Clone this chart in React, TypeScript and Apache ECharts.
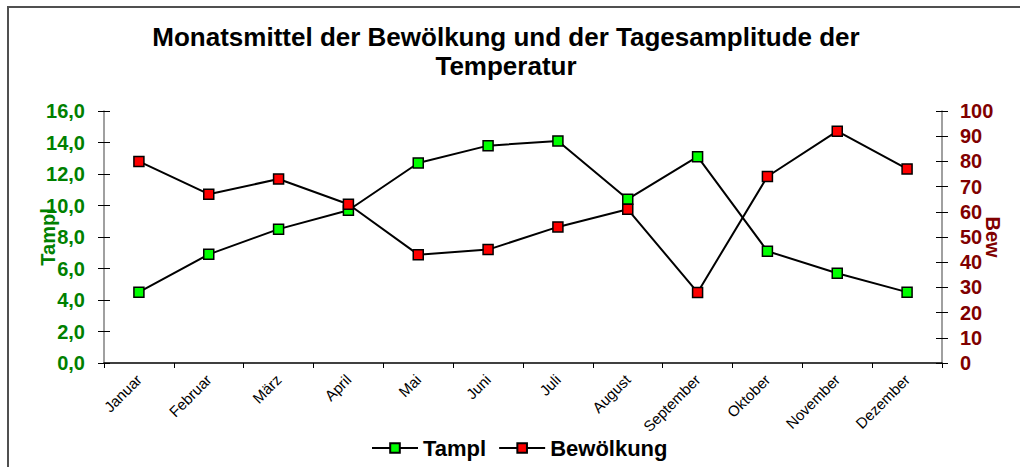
import React, { useEffect, useRef } from "react";
import * as echarts from "echarts";

const months = ["Januar", "Februar", "März", "April", "Mai", "Juni", "Juli", "August", "September", "Oktober", "November", "Dezember"];
const tampl = [4.5, 6.9, 8.5, 9.7, 12.7, 13.8, 14.1, 10.4, 13.1, 7.1, 5.7, 4.5];
const bewoelkung = [80, 67, 73, 63, 43, 45, 54, 61, 28, 74, 92, 77];
const titleText = "Monatsmittel der Bewölkung und der Tagesamplitude der\nTemperatur";

export default function App() {
  const ref = useRef<HTMLDivElement>(null);
  useEffect(() => {
    document.body.style.margin = "0";
    const chart = echarts.init(ref.current!, null, { renderer: "svg" });
    const font = "Liberation Sans, Arial, sans-serif";
    chart.setOption({
      animation: false,
      backgroundColor: "#ffffff",
      textStyle: { fontFamily: font },
      title: {
        text: titleText,
        left: 501,
        top: 17,
        textAlign: "center",
        textStyle: { fontSize: 26, fontWeight: "bold", color: "#000", lineHeight: 29, fontFamily: font },
      },
      graphic: [
        {
          type: "rect",
          shape: { x: 8, y: 7, width: 1100, height: 500 },
          style: { fill: "none", stroke: "#505050", lineWidth: 2 },
          silent: true,
        },
      ],
      legend: {
        bottom: 3,
        left: 366,
        itemWidth: 46,
        itemHeight: 12,
        itemGap: 12,
        textStyle: { fontSize: 22, fontWeight: "bold", color: "#000", fontFamily: font },
        data: ["Tampl", "Bewölkung"],
      },
      grid: { left: 104, right: 78, top: 111, bottom: 104, outerBoundsMode: "none", containLabel: false },
      xAxis: {
        type: "category",
        data: months,
        boundaryGap: true,
        axisLine: { lineStyle: { color: "#000", width: 1.5 } },
        axisTick: { show: true, length: 5, lineStyle: { color: "#000" } },
        axisLabel: { rotate: 45, fontSize: 15, color: "#000", margin: 14, interval: 0, fontFamily: font },
      },
      yAxis: [
        {
          type: "value",
          min: 0,
          max: 16,
          interval: 2,
          position: "left",
          name: "Tampl",
          nameLocation: "middle",
          nameGap: 46,
          nameRotate: 90,
          nameMoveOverlap: false,
          nameTextStyle: { fontSize: 20, fontWeight: "bold", color: "#008000", fontFamily: font },
          axisLine: { show: true, lineStyle: { color: "#808080", width: 1.5 } },
          axisTick: { show: true, length: 6, lineStyle: { color: "#000" } },
          axisLabel: {
            fontSize: 20,
            fontWeight: "bold",
            color: "#008000",
            margin: 19,
            fontFamily: font,
            formatter: (v: number) => v.toFixed(1).replace(".", ","),
          },
          splitLine: { show: false },
        },
        {
          type: "value",
          min: 0,
          max: 100,
          interval: 10,
          position: "right",
          name: "Bew",
          nameLocation: "middle",
          nameGap: 41,
          nameRotate: -90,
          nameMoveOverlap: false,
          nameTextStyle: { fontSize: 20, fontWeight: "bold", color: "#800000", fontFamily: font },
          axisLine: { show: true, lineStyle: { color: "#808080", width: 1.5 } },
          axisTick: { show: true, length: 6, lineStyle: { color: "#000" } },
          axisLabel: { fontSize: 20, fontWeight: "bold", color: "#800000", margin: 18, fontFamily: font },
          splitLine: { show: false },
        },
        {
          type: "value",
          min: 0,
          max: 16,
          interval: 2,
          position: "left",
          axisLine: { show: false },
          axisTick: { show: true, inside: true, length: 6, lineStyle: { color: "#000" } },
          axisLabel: { show: false },
          splitLine: { show: false },
        },
        {
          type: "value",
          min: 0,
          max: 100,
          interval: 10,
          position: "right",
          axisLine: { show: false },
          axisTick: { show: true, inside: true, length: 6, lineStyle: { color: "#000" } },
          axisLabel: { show: false },
          splitLine: { show: false },
        },
      ],
      series: [
        {
          name: "Tampl",
          type: "line",
          yAxisIndex: 0,
          data: tampl,
          symbol: "rect",
          symbolSize: 10,
          lineStyle: { color: "#000", width: 2 },
          itemStyle: { color: "#00ff00", borderColor: "#000", borderWidth: 1.5 },
        },
        {
          name: "Bewölkung",
          type: "line",
          yAxisIndex: 1,
          data: bewoelkung,
          symbol: "rect",
          symbolSize: 10,
          lineStyle: { color: "#000", width: 2 },
          itemStyle: { color: "#ff0000", borderColor: "#000", borderWidth: 1.5 },
        },
      ],
    });
    return () => chart.dispose();
  }, []);
  return <div ref={ref} style={{ width: 1020, height: 467 }} />;
}
